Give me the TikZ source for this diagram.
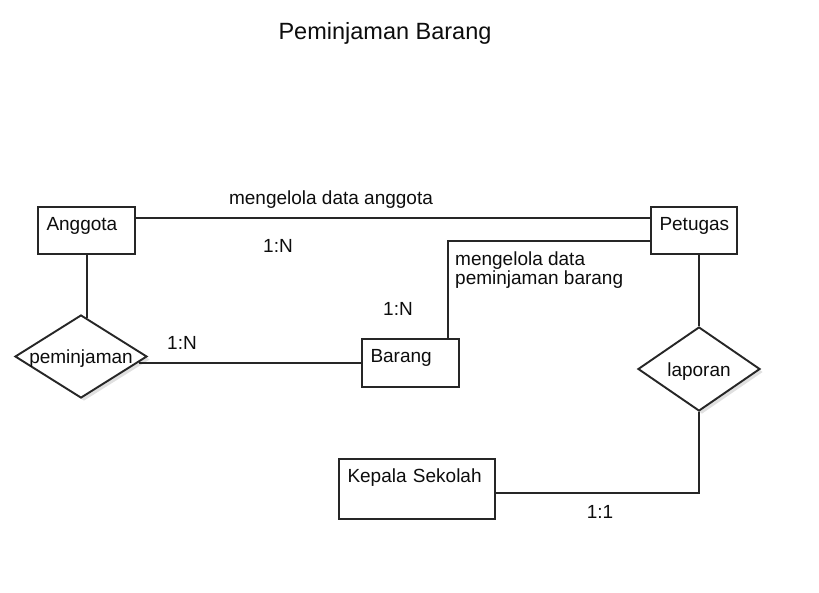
\documentclass[tikz,border=0pt]{standalone}
\usepackage{fontspec}
\setmainfont{Liberation Sans}
\usetikzlibrary{shapes.geometric,shadows,calc}
\tikzset{
  lineclr/.style={draw=black!85, line width=1.9pt},
  entity/.style n args={2}{rectangle, lineclr, fill=white, inner xsep=8.5pt, inner ysep=0pt,
    text width=#1, text height=23pt, text depth=#2, align=left, text=black!95,
    font=\fontsize{19}{22}\selectfont},
  relation/.style={diamond, lineclr, fill=white, inner sep=0pt,
    drop shadow={shadow xshift=3pt, shadow yshift=-3pt, fill=black, opacity=0.12},
    label={[text=black!95, yshift=-2.5pt, font=\fontsize{19}{22}\selectfont]center:#1}},
  lbl/.style={inner sep=0pt, text=black!95, font=\fontsize{19}{19}\selectfont},
  conn/.style={lineclr},
}
\begin{document}
\begin{tikzpicture}[x=1pt,y=-1pt]
\useasboundingbox[fill=white] (0,0) rectangle (819,592);

% title
\node[lbl, font=\fontsize{23.5}{26}\selectfont] (title) at (385,33) {Peminjaman Barang};

% entities
\node[entity={80pt}{24pt}] (anggota) at (86.5,230.5) {Anggota};
\node[entity={69pt}{24pt}] (petugas) at (694,230.5) {Petugas};
\node[entity={80pt}{25pt}] (barang) at (410.5,363) {Barang};
\node[entity={139pt}{37pt}] (kepala) at (417,489) {Kepala Sekolah};

% relations
\node[relation=peminjaman, minimum width=132pt, minimum height=83pt] (peminjaman) at (81,356.5) {};
\node[relation=laporan, minimum width=122pt, minimum height=84pt] (laporan) at (699,369) {};

% connectors
\draw[conn] ([yshift=-12pt]anggota.north east) -- ([yshift=-12pt]anggota.north east -| petugas.west);
\draw[conn] ([yshift=-35pt]petugas.north west) -| ([xshift=-12pt]barang.north east);
\draw[conn] ([xshift=0.5pt]anggota.south) -- ($(anggota.south |- peminjaman.north)+(0.5,3.5)$);
\draw[conn] (barang.west) -- ($(barang.west -| peminjaman.east)+(-9,0)$);
\draw[conn] (laporan.north) -- (laporan.north |- petugas.south);
\draw[conn] (laporan.south) |- ([yshift=-35pt]kepala.north east);

% connector labels
\node[lbl] (t1) at (331,200) {mengelola data anggota};
\node[lbl] (c1) at (278,246) {1:N};
\node[lbl, align=left, anchor=west] (t2) at (455,270) {mengelola data\\peminjaman barang};
\node[lbl] (c2) at (398,309) {1:N};
\node[lbl] (c3) at (182,343) {1:N};
\node[lbl] (c4) at (600,512) {1:1};
\end{tikzpicture}
\end{document}
